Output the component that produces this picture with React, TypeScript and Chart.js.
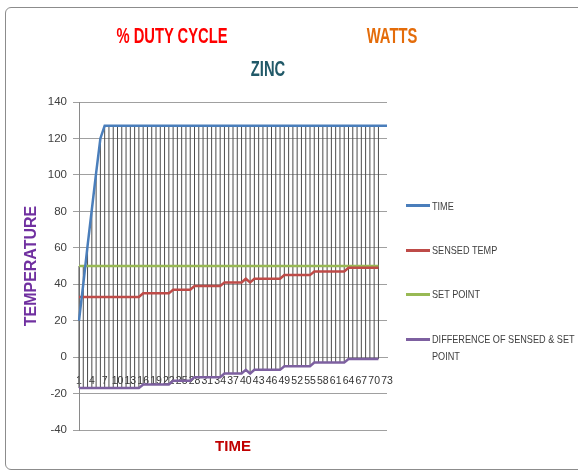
import React, { useEffect, useRef } from 'react';
import { Chart, registerables } from 'chart.js';

Chart.register(...registerables);

// ---------- data ----------
const categories = [
  '1', '2', '3', '4', '5', '6', '7', '8', '9', '10',
  '11', '12', '13', '14', '15', '16', '17', '18', '19', '20',
  '21', '22', '23', '24', '25', '26', '27', '28', '29', '30',
  '31', '32', '33', '34', '35', '36', '37', '38', '39', '40',
  '41', '42', '43', '44', '45', '46', '47', '48', '49', '50',
  '51', '52', '53', '54', '55', '56', '57', '58', '59', '60',
  '61', '62', '63', '64', '65', '66', '67', '68', '69', '70',
  '71', '72', '73',
];

const timeValues = [
  20, 40, 61, 81, 101, 120,
  127, 127, 127, 127, 127, 127, 127, 127, 127, 127,
  127, 127, 127, 127, 127, 127, 127, 127, 127, 127,
  127, 127, 127, 127, 127, 127, 127, 127, 127, 127,
  127, 127, 127, 127, 127, 127, 127, 127, 127, 127,
  127, 127, 127, 127, 127, 127, 127, 127, 127, 127,
  127, 127, 127, 127, 127, 127, 127, 127, 127, 127,
  127, 127, 127, 127, 127, 127, 127,
];

const sensedTemp = [
  33, 33, 33, 33, 33, 33, 33, 33, 33, 33, 33, 33, 33, 33, 33,
  35, 35, 35, 35, 35, 35, 35,
  37, 37, 37, 37, 37,
  39, 39, 39, 39, 39, 39, 39,
  41, 41, 41, 41, 41,
  43, 41,
  43, 43, 43, 43, 43, 43, 43,
  45, 45, 45, 45, 45, 45, 45,
  47, 47, 47, 47, 47, 47, 47, 47,
  49, 49, 49, 49, 49, 49, 49, 49,
];

const setPoint = [
  50, 50, 50, 50, 50, 50, 50, 50, 50, 50,
  50, 50, 50, 50, 50, 50, 50, 50, 50, 50,
  50, 50, 50, 50, 50, 50, 50, 50, 50, 50,
  50, 50, 50, 50, 50, 50, 50, 50, 50, 50,
  50, 50, 50, 50, 50, 50, 50, 50, 50, 50,
  50, 50, 50, 50, 50, 50, 50, 50, 50, 50,
  50, 50, 50, 50, 50, 50, 50, 50, 50, 50,
  50,
];

const difference = [
  -17, -17, -17, -17, -17, -17, -17, -17, -17, -17, -17, -17, -17, -17, -17,
  -15, -15, -15, -15, -15, -15, -15,
  -13, -13, -13, -13, -13,
  -11, -11, -11, -11, -11, -11, -11,
  -9, -9, -9, -9, -9,
  -7, -9,
  -7, -7, -7, -7, -7, -7, -7,
  -5, -5, -5, -5, -5, -5, -5,
  -3, -3, -3, -3, -3, -3, -3, -3,
  -1, -1, -1, -1, -1, -1, -1, -1,
];

const seriesNames = ['TIME', 'SENSED TEMP', 'SET POINT', 'DIFFERENCE OF SENSED & SET POINT'];
const yMin = -40;
const yMax = 140;
const yStep = 20;
const labelEvery = 3;

// ---------- styles ----------
const FONT = "'Liberation Sans', Arial, sans-serif";
const COLORS = ['#4A7EBB', '#BE4B48', '#98B954', '#7D60A0'];
const GRID = '#a0a0a0';

const highLowPlugin = {
  id: 'highLowLines',
  beforeDatasetsDraw(chart: any) {
    const { ctx, scales } = chart;
    const x = scales.x;
    const y = scales.y;
    const n = chart.data.labels.length;
    ctx.save();
    ctx.strokeStyle = '#4c4c4c';
    ctx.lineWidth = 1;
    for (let i = 0; i < n; i++) {
      const vals = chart.data.datasets
        .map((d: any) => d.data[i])
        .filter((v: any) => typeof v === 'number');
      if (vals.length < 2) continue;
      const px = x.getPixelForValue(i);
      ctx.beginPath();
      ctx.moveTo(px, y.getPixelForValue(Math.max(...vals)));
      ctx.lineTo(px, y.getPixelForValue(Math.min(...vals)));
      ctx.stroke();
    }
    ctx.restore();
  },
};

function titleStyle(cx: number, cy: number, fs: number, color: string, sx: number): React.CSSProperties {
  return {
    position: 'absolute',
    left: cx,
    top: cy - fs * 0.49,
    fontFamily: FONT,
    fontWeight: 'bold',
    fontSize: fs,
    lineHeight: `${fs}px`,
    color,
    whiteSpace: 'nowrap',
    transform: `translateX(-50%) scaleX(${sx})`,
  };
}

const legendRows = [
  { lineY: 205, textY: 206 },
  { lineY: 250, textY: 250 },
  { lineY: 294.3, textY: 294.5 },
  { lineY: 339, textY: 339 },
];

export default function App() {
  const ref = useRef<HTMLCanvasElement>(null);

  useEffect(() => {
    document.body.style.margin = '0';
    const data = [timeValues, sensedTemp, setPoint, difference];
    const chart = new Chart(ref.current as HTMLCanvasElement, {
      type: 'line',
      data: {
        labels: categories,
        datasets: data.map((d, i) => ({
          label: seriesNames[i],
          data: d,
          borderColor: COLORS[i],
          backgroundColor: COLORS[i],
          borderWidth: 2.5,
          pointRadius: 0,
          tension: 0,
          fill: false,
        })),
      },
      options: {
        animation: false,
        responsive: false,
        events: [],
        layout: { padding: { left: 0, top: 102, right: 191, bottom: 0 } },
        plugins: {
          legend: { display: false },
          tooltip: { enabled: false },
        },
        scales: {
          x: {
            type: 'category',
            position: { y: 0 } as any,
            offset: false,
            grid: { display: false },
            border: { display: true, color: GRID },
            ticks: {
              autoSkip: false,
              maxRotation: 0,
              minRotation: 0,
              padding: 10,
              color: '#333333',
              font: { family: FONT, size: 10.5 },
              callback: (_v: any, i: number) => (i % labelEvery === 0 ? categories[i] : ''),
            },
            afterFit: (s: any) => {
              s.height = 0;
            },
          } as any,
          x2: {
            type: 'category',
            position: 'bottom',
            grid: { display: false },
            border: { display: false },
            ticks: { display: false },
            title: {
              display: true,
              text: 'TIME',
              color: '#C00000',
              font: { family: FONT, size: 15, weight: 'bold' },
              padding: { top: 0, bottom: 19.5 },
            },
            afterFit: (s: any) => {
              s.height = 45;
            },
          } as any,
          y: {
            min: yMin,
            max: yMax,
            ticks: {
              stepSize: yStep,
              padding: 6,
              color: '#404040',
              font: { family: FONT, size: 11.5 },
            },
            grid: { color: GRID, tickLength: 6 },
            border: { color: '#8a8a8a' },
            title: {
              display: true,
              text: 'TEMPERATURE',
              color: '#7030A0',
              font: { family: FONT, size: 16, weight: 'bold' },
              padding: { top: 22.4, bottom: 0 },
            },
            afterFit: (s: any) => {
              s.width = 79;
            },
          } as any,
        },
      },
      plugins: [highLowPlugin],
    });
    return () => chart.destroy();
  }, []);

  return (
    <div style={{ position: 'relative', width: 578, height: 475, overflow: 'hidden', background: '#fff' }}>
      <div
        style={{
          position: 'absolute',
          left: 5,
          top: 7,
          width: 640,
          height: 463,
          border: '1px solid #8c8c8c',
          borderRadius: 6,
          boxSizing: 'border-box',
        }}
      />
      <canvas ref={ref} width={578} height={475} style={{ position: 'absolute', left: 0, top: 0 }} />
      <div style={titleStyle(172, 36, 22, '#FF0000', 0.67)}>% DUTY CYCLE</div>
      <div style={titleStyle(391.5, 36, 22, '#E46C0A', 0.67)}>WATTS</div>
      <div style={titleStyle(267.5, 69, 22, '#215968', 0.67)}>ZINC</div>
      {seriesNames.map((name, i) => {
        const row = legendRows[i];
        const multi = i === 3;
        return (
          <React.Fragment key={name}>
            <div
              style={{
                position: 'absolute',
                left: 406,
                top: row.lineY - 1.5,
                width: 24,
                height: 3,
                background: COLORS[i],
              }}
            />
            <div
              style={{
                position: 'absolute',
                left: 432,
                top: row.textY - 5.4,
                fontFamily: FONT,
                fontSize: 11,
                lineHeight: multi ? '16.8px' : '11px',
                marginTop: multi ? -2.9 : 0,
                color: '#404040',
                whiteSpace: 'nowrap',
                transformOrigin: 'left top',
                transform: 'scaleX(0.83)',
              }}
            >
              {multi ? (
                <>
                  DIFFERENCE OF SENSED &amp; SET
                  <br />
                  POINT
                </>
              ) : (
                name
              )}
            </div>
          </React.Fragment>
        );
      })}
    </div>
  );
}
